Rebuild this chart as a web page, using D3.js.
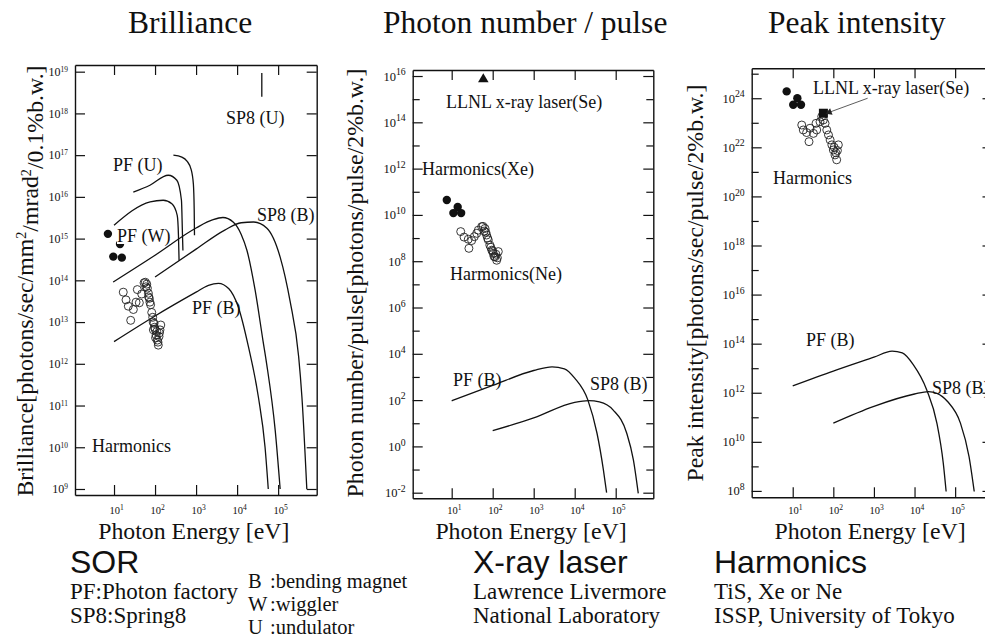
<!DOCTYPE html>
<html><head><meta charset="utf-8">
<script src="https://cdn.jsdelivr.net/npm/d3@7"></script>
<style>
body{margin:0;background:#fff;}
svg{display:block;background:#fff;}
text{font-family:"Liberation Serif","Times New Roman",serif;fill:#111;}
</style></head><body>
<svg id="c" width="985" height="640"></svg>
<script>
// ---------- DATA ----------
const energyTicks = [10, 100, 1000, 1e4, 1e5];

// Panel 1: Brilliance
const briTicks = [1e9,1e10,1e11,1e12,1e13,1e14,1e15,1e16,1e17,1e18,1e19];
const briPFB = [[10,3.4e12],[100,1.4e13],[1000,5.2e13],[2000,7.6e13],[3500,8.5e13],[6300,6.3e13],[10700,2.3e13],[19000,2.5e12],[33000,1.6e11],[48000,1e10],[57500,1e9]];
const briPFW = [[9.5,9.1e13],[100,4e14],[1000,1.8e15],[2500,2.8e15],[4500,3.2e15],[8000,2.5e15],[12600,1.26e15],[17400,5.2e14],[27500,5.8e13],[42700,3.6e12],[52500,1e12],[85000,2.5e10],[112000,1e9]];
const briSP8B = [[100,1.2e14],[1000,5.6e14],[5000,1.6e15],[12600,2.4e15],[25000,2.5e15],[52500,1.8e15],[112000,3.6e14],[195000,3.2e13],[316000,1.5e12],[380000,1.6e11],[500000,1e9]];
const briPFU1 = [[280,1e17],[450,9e16],[600,7.2e16],[760,4.5e16],[860,2e16],[900,5e15],[915,1.2e15]];
const briPFU2 = [[29.5,1.3e16],[75,1.9e16],[210,3.3e16],[340,2.5e16],[440,8.3e15],[465,1.35e15],[478,5.2e14]];
const briPFWu = [[10,2.1e15],[76,7.6e15],[158,8.3e15],[257,6.8e15],[347,3.6e15],[372,1.2e15],[385,3e14]];
const briSP8U = [[40000,9.3e18],[40000,2.5e18]];
const briXe = [[7.1,1.3e15],[9.6,3.7e14],[15.5,3.5e14],[14,7.4e14]];
const briHarm = [[16.8,5.2e13],[19.6,3.4e13],[22.3,2.4e13],[25.5,1.1e13],[29.6,2e13],[34.4,3e13],[41.4,2.9e13],[37,6e13],[47.3,4.7e13],
  [54,8.7e13],[58,9e13],[60,7e13],[62.8,8.1e13],[65,6.5e13],[68.8,4.9e13],[70,4e13],[72.6,3.7e13],[75,3e13],[78,2.6e13],[83,1.7e13],
  [87.7,1.3e13],[90,1e13],[91,6.5e12],[94.5,9.3e12],[97,7.5e12],[100,6.8e12],[103,4.2e12],[106,4.9e12],[110,5.9e12],[114,3.7e12],
  [118,3.3e12],[120,2.8e12],[125,4.5e12],[128,5.5e12],[132,6.5e12],[138,8.5e12]];

// Panel 2: Photon number / pulse
const numTicks = [1e-2,1,1e2,1e4,1e6,1e8,1e10,1e12,1e14,1e16];
const numMinor = [1e-1,1e1,1e3,1e5,1e7,1e9,1e11,1e13,1e15];
const numPFB = [[10,93],[100,430],[1000,1900],[2800,2750],[5600,2250],[10000,890],[21000,100],[35000,3.7],[50000,0.1],[60000,0.01]];
const numSP8B = [[100,4.8],[1000,17],[10000,80],[22000,95],[40000,83],[87000,37],[186000,3.7],[270000,0.26],[355000,0.0093]];
const numLLNL = [[59,7.2e15]];
const numXe = [[7.6,4.4e10],[11,1.2e10],[14,2.2e10],[17,1.2e10]];
const numHarm = [[16.6,1.9e9],[20,1.1e9],[25.4,8.9e8],[26.3,3.6e8],[30.7,7.8e8],[35.6,1.15e9],[40.7,1.6e9],[44.7,2.2e9],[53.8,3.1e9],
  [58,3.2e9],[62,2e9],[65,2.6e9],[68,1.8e9],[71,1.35e9],[75,1e9],[78,8.3e8],[85,5e8],[90,4e8],[95,3e8],[100,2.8e8],[103,2.2e8],
  [108,1.6e8],[114,1.55e8],[120,2e8],[125,1.1e8],[130,1.4e8],[137,2.6e8]];

// Panel 3: Peak intensity
const peakTicks = [1e8,1e10,1e12,1e14,1e16,1e18,1e20,1e22,1e24];
const peakMinor = [1e9,1e11,1e13,1e15,1e17,1e19,1e21,1e23,1e25];
const peakPFB = [[10,1.9e12],[100,7.6e12],[1000,2.8e13],[2800,5e13],[5000,4.2e13],[9300,1.4e13],[20000,1.3e12],[35500,5.8e10],[51000,1.35e9],[60000,9.5e7]];
const peakSP8B = [[100,5.8e10],[1000,2.8e11],[10000,8.9e11],[22000,1.12e12],[35500,9.5e11],[65000,4.4e11],[135000,5.8e10],[220000,2.5e9],[295000,9.5e7]];
const peakLLNL = [[57,2.45e23]];
const peakXe = [[7.1,1.9e24],[13,1e24],[10.3,5.4e23],[16,5.4e23]];
const peakHarm = [[16.7,8.1e22],[18.2,5.1e22],[22,4e22],[25.2,1.7e22],[26.7,6e22],[32.4,3.7e22],[39,5.1e22],[37.5,9.5e22],[47,1.1e23],
  [51.8,1.8e23],[57,1.3e23],[62.6,9.5e22],[69,5.1e22],[76,3.2e22],[83.5,2e22],[92,1.26e22],[100,7.8e21],[110,4.9e21],[121,3.1e21],
  [126,7.4e21],[133,1.26e22],[115,6e21],[105,1e22]];

// ---------- DRAWING ----------
const svg = d3.select('#c');
const lineGen = (x, y, curve) => d3.line().x(d => x(d[0])).y(d => y(d[1])).curve(curve || d3.curveMonotoneX);

function supText(t, d, sup) {
  t.text(null);
  t.append('tspan').text('10');
  t.append('tspan').attr('dy', '-0.55em').attr('font-size', sup + 'em').text(Math.round(Math.log10(d)));
}

function panel(o) {
  const g = svg.append('g');
  const x = d3.scaleLog().domain([Math.pow(10, o.xd[0]), Math.pow(10, o.xd[1])]).range(o.xr);
  const y = d3.scaleLog().domain([Math.pow(10, o.yd[0]), Math.pow(10, o.yd[1])]).range(o.yr);
  const styleAxis = a => { a.selectAll('path.domain').attr('stroke', '#111').attr('stroke-width', 1.4);
    a.selectAll('.tick line').attr('stroke', '#111').attr('stroke-width', 1.2);
    a.attr('font-family', null).attr('font-size', null); };
  // bottom
  const ab = g.append('g').attr('transform', `translate(0,${o.yr[0]})`)
    .call(d3.axisBottom(x).tickValues(energyTicks).tickSizeInner(-10).tickSizeOuter(0).tickPadding(o.xPad));
  styleAxis(ab);
  ab.selectAll('.tick text').attr('font-size', 10.5).attr('dx', '0.2em').each(function(d){ supText(d3.select(this), d, 0.72); });
  // top
  const at = g.append('g').attr('transform', `translate(0,${o.yr[1]})`)
    .call(d3.axisTop(x).tickValues(energyTicks).tickSizeInner(-10).tickSizeOuter(0).tickFormat(''));
  styleAxis(at);
  // left
  const al = g.append('g').attr('transform', `translate(${o.xr[0]},0)`)
    .call(d3.axisLeft(y).tickValues(o.ticks).tickSizeInner(-10).tickSizeOuter(0).tickPadding(7));
  styleAxis(al);
  al.selectAll('.tick text').attr('font-size', o.tickFont).each(function(d){ supText(d3.select(this), d, o.supFont); });
  // right
  const ar = g.append('g').attr('transform', `translate(${o.xr[1]},0)`)
    .call(d3.axisRight(y).tickValues(o.ticks).tickSizeInner(-10).tickSizeOuter(0).tickFormat(''));
  styleAxis(ar);
  if (o.minor) {
    const ml = g.append('g').attr('transform', `translate(${o.xr[0]},0)`)
      .call(d3.axisLeft(y).tickValues(o.minor).tickSizeInner(-7).tickSizeOuter(0).tickFormat(''));
    styleAxis(ml); ml.select('path.domain').remove();
    const mr = g.append('g').attr('transform', `translate(${o.xr[1]},0)`)
      .call(d3.axisRight(y).tickValues(o.minor).tickSizeInner(-7).tickSizeOuter(0).tickFormat(''));
    styleAxis(mr); mr.select('path.domain').remove();
  }
  // titles
  g.append('text').attr('x', o.titleX).attr('y', 33).attr('font-size', 31.5).text(o.title);
  g.append('text').attr('x', (o.xr[0] + o.xr[1]) / 2 - 2).attr('y', 539).attr('text-anchor', 'middle')
    .attr('font-size', 23.8).text('Photon Energy [eV]');
  const yt = g.append('text').attr('transform', `translate(${o.ytX},${o.ytY}) rotate(-90)`)
    .attr('text-anchor', 'middle').attr('font-size', 23.8);
  o.ytitle.forEach(p => {
    if (p.sup) yt.append('tspan').attr('dy', '-0.5em').attr('font-size', '0.6em').text(p.t);
    else if (p.after) yt.append('tspan').attr('dy', '0.5em').text(p.t);
    else yt.append('tspan').text(p.t);
  });
  // curves
  (o.curves || []).forEach(c => {
    g.append('path').datum(c.data).attr('fill', 'none').attr('stroke', '#111').attr('stroke-width', 1.3)
      .attr('d', lineGen(x, y, c.curve)(c.data));
  });
  // open circles
  g.append('g').selectAll('circle').data(o.harm).join('circle')
    .attr('cx', d => x(d[0])).attr('cy', d => y(d[1])).attr('r', 4)
    .attr('fill', 'none').attr('stroke', '#222').attr('stroke-width', 0.9);
  // filled dots
  g.append('g').selectAll('circle').data(o.xe).join('circle')
    .attr('cx', d => x(d[0])).attr('cy', d => y(d[1])).attr('r', 4.2).attr('fill', '#111');
  return {g, x, y};
}

function label(g, xx, yy, t, bg) {
  const tt = g.append('text').attr('x', xx).attr('y', yy).attr('font-size', 18).text(t);
  if (bg) {
    const bb = tt.node().getBBox();
    g.insert('rect', () => tt.node()).attr('x', bb.x).attr('y', bb.y + 3).attr('width', bb.width).attr('height', bb.height - 6).attr('fill', '#fff');
  }
  return tt;
}

// Panel 1
const p1 = panel({
  xr: [75, 316.7], xd: [0.049, 5.94], yr: [495, 65], yd: [8.856, 19.16], xPad: 11.5,
  ticks: briTicks, tickFont: 12, supFont: 0.62, title: 'Brilliance', titleX: 128, ytX: 33, ytY: 281,
  ytitle: [{t: 'Brilliance[photons/sec/mm'}, {t: '2', sup: true}, {t: '/mrad', after: true}, {t: '2', sup: true}, {t: '/0.1%b.w.]', after: true}],
  curves: [{data: briPFB}, {data: briPFW}, {data: briSP8B}, {data: briPFU1}, {data: briPFU2}, {data: briPFWu}, {data: briSP8U, curve: d3.curveLinear}],
  harm: briHarm, xe: briXe
});
label(p1.g, 226, 124, 'SP8 (U)');
label(p1.g, 113, 171, 'PF (U)');
label(p1.g, 257, 221, 'SP8 (B)');
label(p1.g, 117, 242, 'PF (W)', true);
label(p1.g, 192, 314, 'PF (B)');
label(p1.g, 92, 452, 'Harmonics');

// Panel 2
const p2 = panel({
  xr: [412.7, 653.3], xd: [0.049, 5.917], yr: [498.3, 70], yd: [-2.242, 16.26], xPad: 8.5,
  ticks: numTicks, minor: numMinor, tickFont: 12.5, supFont: 0.78, title: 'Photon number / pulse', titleX: 383, ytX: 363, ytY: 283,
  ytitle: [{t: 'Photon number/pulse[photons/pulse/2%b.w.]'}],
  curves: [{data: numPFB}, {data: numSP8B}],
  harm: numHarm, xe: numXe
});
p2.g.append('g').selectAll('path').data(numLLNL).join('path')
  .attr('transform', d => `translate(${p2.x(d[0])},${p2.y(d[1])})`)
  .attr('d', d3.symbol(d3.symbolTriangle, 48)).attr('fill', '#111');
label(p2.g, 446, 108, 'LLNL x-ray laser(Se)');
label(p2.g, 422, 175, 'Harmonics(Xe)');
label(p2.g, 450, 280, 'Harmonics(Ne)');
label(p2.g, 453, 386, 'PF (B)');
label(p2.g, 590, 390, 'SP8 (B)');

// Panel 3
const p3 = panel({
  xr: [751.7, 992.5], xd: [-0.01, 5.92], yr: [497.3, 68.3], yd: [7.74, 25.22], xPad: 9.5,
  ticks: peakTicks, minor: peakMinor, tickFont: 12.5, supFont: 0.78, title: 'Peak intensity', titleX: 768, ytX: 703, ytY: 283,
  ytitle: [{t: 'Peak intensity[photons/sec/pulse/2%b.w.]'}],
  curves: [{data: peakPFB}, {data: peakSP8B}],
  harm: peakHarm, xe: peakXe
});
p3.g.append('g').selectAll('rect').data(peakLLNL).join('rect')
  .attr('x', d => p3.x(d[0]) - 4.5).attr('y', d => p3.y(d[1]) - 4.5).attr('width', 9).attr('height', 9).attr('fill', '#111');
// arrow from label to square
const sq = peakLLNL[0];
const ax1 = p3.x(700), ay1 = p3.y(1e24), ax2 = p3.x(sq[0]) + 6, ay2 = p3.y(sq[1]) - 1;
p3.g.append('line').attr('x1', ax1).attr('y1', ay1).attr('x2', ax2).attr('y2', ay2).attr('stroke', '#333').attr('stroke-width', 0.8);
const ang = Math.atan2(ay2 - ay1, ax2 - ax1);
p3.g.append('path').attr('d', d3.symbol(d3.symbolTriangle, 22)()).attr('fill', '#222')
  .attr('transform', `translate(${ax2},${ay2}) rotate(${ang * 180 / Math.PI + 90})`);
label(p3.g, 813, 94, 'LLNL x-ray laser(Se)');
label(p3.g, 773, 184, 'Harmonics');
label(p3.g, 806, 346, 'PF (B)');
label(p3.g, 932, 394, 'SP8 (B)');

// ---------- Bottom legend text ----------
const leg = svg.append('g');
const sans = (x, y, t) => leg.append('text').attr('x', x).attr('y', y).attr('font-size', 32)
  .style('font-family', '"Liberation Sans", Arial, sans-serif').text(t);
const serif = (x, y, t, fs) => leg.append('text').attr('x', x).attr('y', y).attr('font-size', fs || 23).text(t);
sans(70, 573, 'SOR');
serif(70, 599, 'PF:Photon factory');
serif(70, 623, 'SP8:Spring8');
serif(248, 588, 'B', 20.5);
serif(270, 588, ':bending magnet', 20.5);
serif(248, 611, 'W', 20.5);
serif(270, 611, ':wiggler', 20.5);
serif(248, 634, 'U', 20.5);
serif(270, 634, ':undulator', 20.5);
sans(473, 573, 'X-ray laser');
serif(473, 599, 'Lawrence Livermore');
serif(473, 623, 'National Laboratory');
sans(714, 573, 'Harmonics');
serif(714, 599, 'TiS, Xe or Ne');
serif(714, 623, 'ISSP, University of Tokyo');
</script>
</body></html>
